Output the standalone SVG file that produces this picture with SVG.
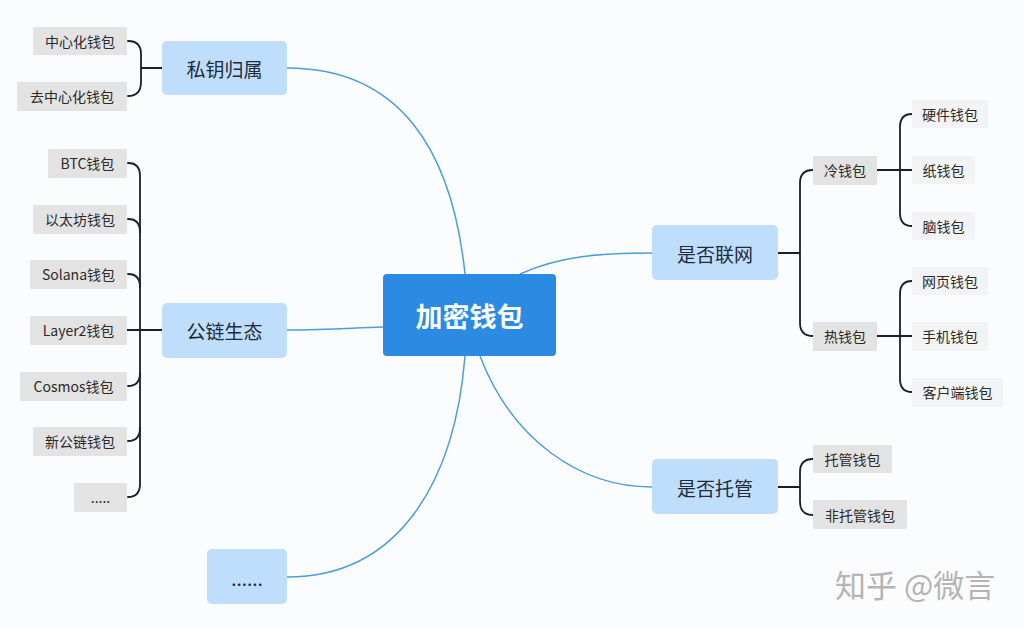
<svg xmlns="http://www.w3.org/2000/svg" width="1024" height="628" viewBox="0 0 1024 628">
<defs>
<style>
.bg{fill:#fbfcfe}
.main rect{fill:#bfdefb}
.main text{font-family:"Noto Sans CJK SC",sans-serif;font-size:19px;fill:#1f2a3a;text-anchor:middle;dominant-baseline:central}
.center rect{fill:#2b8be3}
.center text{font-family:"Noto Sans CJK SC",sans-serif;font-size:27px;font-weight:bold;fill:#ffffff;text-anchor:middle;dominant-baseline:central}
.leaf rect{fill:#e3e3e3}
.leaf.light rect{fill:#f2f3f5}
.leaf text{font-family:"Noto Sans CJK SC",sans-serif;font-size:14px;fill:#2a2a2a;text-anchor:middle;dominant-baseline:central}
.blue{fill:none;stroke:#4a9fd8;stroke-width:1.5}
.br{fill:none;stroke:#1b1e2b;stroke-width:1.8;stroke-linecap:round}
.wm{font-family:"Noto Sans CJK SC",sans-serif;font-size:31px;fill:#b4b4b4}
</style>
</defs>
<rect class="bg" x="0" y="0" width="1024" height="628"/>

<g id="connectors">
<path class="blue" d="M287,68 C400,68 452,150 465,274"/>
<path class="blue" d="M287,330 C330,330 350,328 383,327"/>
<path class="blue" d="M287,577 C400,577 455,480 465,356"/>
<path class="blue" d="M520,274 C560,256 600,253 652,253"/>
<path class="blue" d="M480,356 C512,440 580,487 652,487"/>
<path class="br" d="M162,68 H141 M128,41 Q141,41 141,54 V82 Q141,96 128,96"/>
<path class="br" d="M162,330 H127 M128,163 Q140,163 140,176 V484 Q140,497 128,497"/>
<path class="br" d="M128,219 Q140,219 140,232 M128,274 Q140,274 140,287 M128,386 Q140,386 140,373 M128,441 Q140,441 140,428"/>
<path class="br" d="M778,253 H800 M813,170 Q800,170 800,183 V323 Q800,336 813,336"/>
<path class="br" d="M877,170 H912 M912,114 Q900,114 900,127 V213 Q900,226 912,226"/>
<path class="br" d="M877,336 H912 M912,281 Q900,281 900,294 V379 Q900,392 912,392"/>
<path class="br" d="M778,487 H800 M813,459 Q800,459 800,472 V502 Q800,515 813,515"/>
</g>

<g id="center" class="center"><rect x="383" y="274" width="173" height="82" rx="4"/><text x="469.5" y="315">加密钱包</text></g>

<g id="n-siyao" class="main"><rect x="162" y="41" width="125" height="54" rx="5"/><text x="224.5" y="68">私钥归属</text></g>
<g id="n-gonglian" class="main"><rect x="162" y="303" width="125" height="55" rx="5"/><text x="224.5" y="330">公链生态</text></g>
<g id="n-more" class="main"><rect x="207" y="549" width="80" height="55" rx="5"/><text x="247" y="577">......</text></g>
<g id="n-lianwang" class="main"><rect x="652" y="225" width="126" height="55" rx="5"/><text x="715" y="253">是否联网</text></g>
<g id="n-tuoguan" class="main"><rect x="652" y="459" width="126" height="55" rx="5"/><text x="715" y="487">是否托管</text></g>

<g id="l-zhongxin" class="leaf"><rect x="33" y="27" width="94" height="28" rx="1"/><text x="80" y="41">中心化钱包</text></g>
<g id="l-qu" class="leaf"><rect x="17" y="82" width="110" height="29" rx="1"/><text x="72" y="96">去中心化钱包</text></g>

<g id="l-btc" class="leaf"><rect x="48" y="149" width="79" height="29" rx="1"/><text x="87.5" y="163">BTC钱包</text></g>
<g id="l-eth" class="leaf"><rect x="33" y="205" width="94" height="29" rx="1"/><text x="80" y="219">以太坊钱包</text></g>
<g id="l-sol" class="leaf"><rect x="30" y="260" width="97" height="29" rx="1"/><text x="78.5" y="274">Solana钱包</text></g>
<g id="l-l2" class="leaf"><rect x="30" y="316" width="97" height="29" rx="1"/><text x="78.5" y="330">Layer2钱包</text></g>
<g id="l-cosmos" class="leaf"><rect x="20" y="372" width="107" height="29" rx="1"/><text x="73.5" y="386">Cosmos钱包</text></g>
<g id="l-new" class="leaf"><rect x="33" y="427" width="94" height="29" rx="1"/><text x="80" y="441">新公链钱包</text></g>
<g id="l-dots" class="leaf"><rect x="74" y="483" width="53" height="29" rx="1"/><text x="100.5" y="497">.....</text></g>

<g id="l-cold" class="leaf"><rect x="813" y="156" width="64" height="29" rx="1"/><text x="845" y="170">冷钱包</text></g>
<g id="l-hot" class="leaf"><rect x="813" y="322" width="64" height="29" rx="1"/><text x="845" y="336">热钱包</text></g>

<g id="l-hw" class="leaf light"><rect x="912" y="100" width="76" height="28" rx="1"/><text x="950" y="114">硬件钱包</text></g>
<g id="l-paper" class="leaf light"><rect x="912" y="156" width="63" height="28" rx="1"/><text x="943.5" y="170">纸钱包</text></g>
<g id="l-brain" class="leaf light"><rect x="912" y="212" width="63" height="28" rx="1"/><text x="943.5" y="226">脑钱包</text></g>
<g id="l-web" class="leaf light"><rect x="912" y="267" width="76" height="28" rx="1"/><text x="950" y="281">网页钱包</text></g>
<g id="l-mobile" class="leaf light"><rect x="912" y="322" width="76" height="29" rx="1"/><text x="950" y="336">手机钱包</text></g>
<g id="l-client" class="leaf light"><rect x="912" y="378" width="91" height="29" rx="1"/><text x="957.5" y="392">客户端钱包</text></g>

<g id="l-cust" class="leaf"><rect x="813" y="445" width="79" height="28" rx="1"/><text x="852.5" y="459">托管钱包</text></g>
<g id="l-noncust" class="leaf"><rect x="813" y="500" width="94" height="29" rx="1"/><text x="860" y="515">非托管钱包</text></g>

<text class="wm" x="835" y="597">知乎 @微言</text>
</svg>
